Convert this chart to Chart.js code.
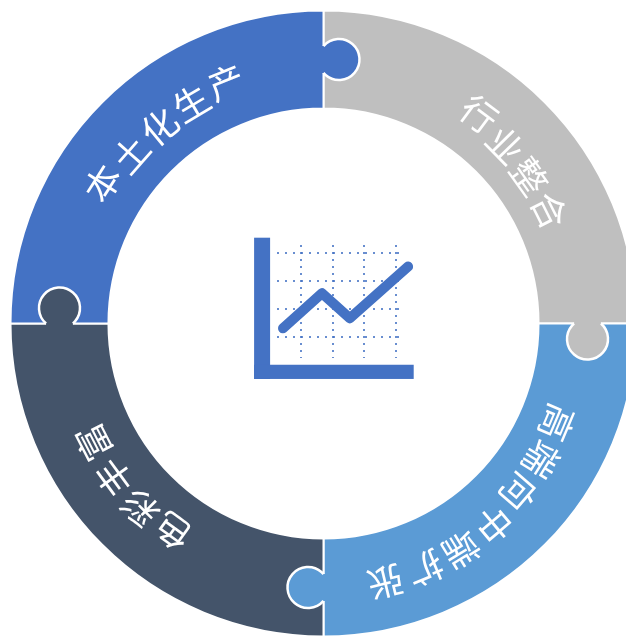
<!DOCTYPE html>
<html lang="zh">
<head>
<meta charset="utf-8">
<title>行业趋势</title>
<script src="https://cdn.jsdelivr.net/npm/chart.js@4"></script>
<style>
html,body{margin:0;padding:0;background:#fff;overflow:hidden;width:626px;height:636px}
#stage{position:relative;width:626px;height:636px;overflow:hidden}
#ring{position:absolute;left:0;top:0}
#icon{position:absolute;left:240px;top:225px}
</style>
</head>
<body>
<div id="stage">
<canvas id="ring" width="647" height="647"></canvas>
<canvas id="icon" width="190" height="165"></canvas>
</div>
<script>
const segmentLabels = ["行业整合", "高端向中端扩张", "色彩丰富", "本土化生产"];
const segmentValues = [25, 25, 25, 25];
const segmentColors = ["#BFBFBF", "#5B9BD5", "#44546A", "#4472C4"];
const iconLineX = [0.43, 1.66, 2.54, 4.38];
const iconLineY = [1.30, 2.55, 1.66, 3.50];
const iconTicks = [1, 2, 3, 4];

Chart.defaults.animation = false;
Chart.defaults.devicePixelRatio = 1;

/* text-on-arc layout: label centre angle (degrees clockwise from the top) and per-glyph radius */
const textCentreDeg = [50, 139.7, 229.3, 320.2];
const textRadii = [
  [260.7, 254.6, 253, 252.6],
  [253.7, 257, 258, 263.5, 265, 265, 266],
  [256.7, 260.4, 260, 258.8],
  [262, 256.6, 256, 257, 260]
];

const puzzleAndText = {
  id: "puzzleAndText",
  afterDatasetsDraw(chart) {
    const ctx = chart.ctx;
    const arcs = chart.getDatasetMeta(0).data;
    const ds = chart.data.datasets[0];
    const shift = 15.5, r = 20.5;
    const phi = Math.acos(-shift / r);
    arcs.forEach((arc, i) => {
      const mid = (arc.innerRadius + arc.outerRadius) / 2;
      const a = arc.endAngle;
      const yEdge = r * Math.sin(phi);
      ctx.save();
      ctx.translate(arc.x + mid * Math.cos(a), arc.y + mid * Math.sin(a));
      ctx.rotate(a + Math.PI / 2);
      ctx.beginPath();
      ctx.arc(shift, 0, r, -phi, phi);
      ctx.lineTo(-1.5, yEdge);
      ctx.lineTo(-1.5, -yEdge);
      ctx.closePath();
      ctx.fillStyle = ds.backgroundColor[i];
      ctx.fill();
      ctx.beginPath();
      ctx.arc(shift, 0, r, -phi, phi);
      ctx.strokeStyle = "#fff";
      ctx.lineWidth = 2.5;
      ctx.stroke();
      ctx.restore();
    });
    const step = 8.9 * Math.PI / 180;
    ctx.font = '36px "Noto Sans CJK SC"';
    ctx.fillStyle = "#fff";
    ctx.textAlign = "center";
    ctx.textBaseline = "middle";
    arcs.forEach((arc, i) => {
      const chars = Array.from(chart.data.labels[i]);
      const centre = (textCentreDeg[i] - 90) * Math.PI / 180;
      chars.forEach((ch, k) => {
        const a = centre + (k - (chars.length - 1) / 2) * step;
        const rad = textRadii[i][k];
        ctx.save();
        ctx.translate(arc.x + rad * Math.cos(a), arc.y + rad * Math.sin(a));
        ctx.rotate(a + Math.PI / 2);
        ctx.fillText(ch, 0, 0);
        ctx.restore();
      });
    });
  }
};

new Chart(document.getElementById("ring"), {
  type: "doughnut",
  data: {
    labels: segmentLabels,
    datasets: [{
      data: segmentValues,
      backgroundColor: segmentColors,
      borderColor: "#fff",
      borderWidth: 2,
      hoverOffset: 0
    }]
  },
  options: {
    responsive: false,
    radius: 313,
    cutout: "68.7%",
    layout: { padding: 0 },
    plugins: { legend: { display: false }, tooltip: { enabled: false } }
  },
  plugins: [puzzleAndText]
});

const axisBars = {
  id: "axisBars",
  beforeDatasetsDraw(chart) {
    const { ctx, chartArea, scales } = chart;
    const x0 = scales.x.getPixelForValue(0), y0 = scales.y.getPixelForValue(0);
    const barW = 16, barH = 14.2;
    ctx.save();
    ctx.fillStyle = "#4472C4";
    ctx.fillRect(x0 - barW + 0.7, chartArea.top - 7.3, barW, y0 + barH - chartArea.top + 7.3);
    ctx.fillRect(x0 - barW + 0.7, y0, chartArea.right + 9.4 - x0 + barW - 0.7, barH);
    ctx.restore();
  }
};

const dotted = (dash) => ({
  border: { display: false, dash: dash },
  grid: { color: "rgba(68,114,196,0.8)", lineWidth: 2, drawTicks: false },
  ticks: { display: false }
});

new Chart(document.getElementById("icon"), {
  type: "scatter",
  data: {
    datasets: [{
      data: iconLineX.map((x, i) => ({ x: x, y: iconLineY[i] })),
      showLine: true,
      borderColor: "#4472C4",
      borderWidth: 10,
      borderCapStyle: "round",
      borderJoinStyle: "round",
      pointRadius: 0,
      tension: 0,
      clip: false
    }]
  },
  options: {
    responsive: false,
    layout: { padding: { left: 37, right: 25.7, top: 20, bottom: 31.7 } },
    scales: {
      x: Object.assign({ type: "linear", min: 0.24, max: 4.26,
        afterBuildTicks: (s) => { s.ticks = iconTicks.map(v => ({ value: v })); } }, dotted([2, 5])),
      y: Object.assign({ type: "linear", min: 0.23, max: 4.27,
        afterBuildTicks: (s) => { s.ticks = iconTicks.map(v => ({ value: v })); } }, dotted([2, 6]))
    },
    plugins: { legend: { display: false }, tooltip: { enabled: false } }
  },
  plugins: [axisBars]
});
</script>
</body>
</html>
